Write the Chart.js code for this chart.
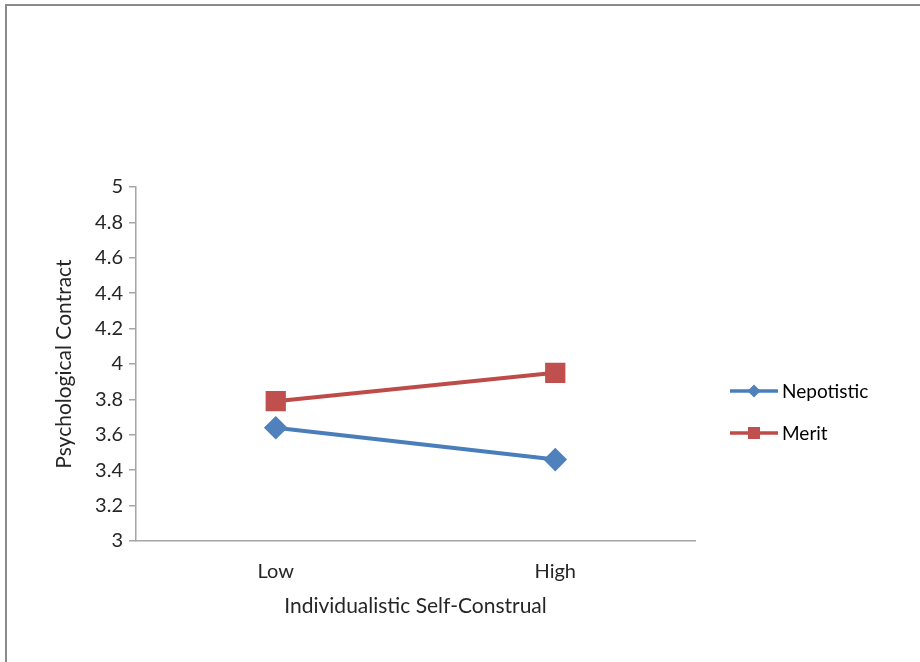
<!DOCTYPE html>
<html>
<head>
<meta charset="utf-8">
<script src="https://cdn.jsdelivr.net/npm/chart.js@4.4.1/dist/chart.umd.min.js"></script>
<style>
  html, body { margin: 0; padding: 0; background: #fff; }
  #wrap { width: 920px; height: 662px; position: relative; }
</style>
</head>
<body>
<div id="wrap"><canvas id="c" width="920" height="662"></canvas></div>
<script>
// Interaction plot: psychological contract by self-construal and hiring condition
const categories = ['Low', 'High'];
const nepotistic = [3.64, 3.46];
const merit = [3.79, 3.95];
const yTicks = [3, 3.2, 3.4, 3.6, 3.8, 4, 4.2, 4.4, 4.6, 4.8, 5];

const FONT = 'Lato, "Open Sans", sans-serif';
const TEXT = '#262626';
const AXIS = '#a6a6a6';

// Outer frame of the figure
const framePlugin = {
  id: 'frame',
  beforeDraw(chart) {
    const ctx = chart.ctx;
    ctx.save();
    ctx.fillStyle = '#fff';
    ctx.fillRect(0, 0, chart.width, chart.height);
    ctx.strokeStyle = '#8a8a8a';
    ctx.lineWidth = 2;
    ctx.beginPath();
    ctx.moveTo(6, chart.height);
    ctx.lineTo(6, 5);
    ctx.lineTo(chart.width, 5);
    ctx.stroke();
    ctx.restore();
  }
};

// Legend: short line with its marker, then the series name
const sideLegend = {
  id: 'sideLegend',
  afterDraw(chart) {
    const ctx = chart.ctx;
    const rows = [391, 433];
    chart.data.datasets.forEach((ds, i) => {
      const y = rows[i];
      ctx.save();
      ctx.strokeStyle = ds.borderColor;
      ctx.lineWidth = 3.5;
      ctx.beginPath();
      ctx.moveTo(730, y);
      ctx.lineTo(778, y);
      ctx.stroke();
      ctx.fillStyle = ds.pointBackgroundColor;
      ctx.beginPath();
      if (ds.pointStyle === 'rectRot') {
        ctx.moveTo(754, y - 6.5);
        ctx.lineTo(760.5, y);
        ctx.lineTo(754, y + 6.5);
        ctx.lineTo(747.5, y);
        ctx.closePath();
      } else {
        ctx.rect(748, y - 6, 12, 12);
      }
      ctx.fill();
      ctx.fillStyle = '#000';
      ctx.font = '19px ' + FONT;
      ctx.textBaseline = 'middle';
      ctx.textAlign = 'left';
      ctx.fillText(ds.label, 782, y + 1);
      ctx.restore();
    });
  }
};

new Chart(document.getElementById('c'), {
  type: 'line',
  data: {
    labels: categories,
    datasets: [
      {
        label: 'Nepotistic',
        data: nepotistic,
        borderColor: '#4a7ebb',
        backgroundColor: '#4f81bd',
        pointBackgroundColor: '#4f81bd',
        pointBorderColor: '#4f81bd',
        pointStyle: 'rectRot',
        pointRadius: 9,
        borderWidth: 4,
        tension: 0
      },
      {
        label: 'Merit',
        data: merit,
        borderColor: '#be4b48',
        backgroundColor: '#c0504d',
        pointBackgroundColor: '#c0504d',
        pointBorderColor: '#c0504d',
        pointStyle: 'rect',
        pointRadius: 11.5,
        borderWidth: 4,
        tension: 0
      }
    ]
  },
  options: {
    responsive: false,
    animation: false,
    events: [],
    layout: { padding: { left: 48, top: 187, right: 225, bottom: 39 } },
    plugins: { legend: { display: false }, tooltip: { enabled: false } },
    scales: {
      x: {
        offset: true,
        grid: { display: false },
        border: { display: true, color: AXIS, width: 1.5 },
        ticks: { color: TEXT, font: { family: FONT, size: 20 }, padding: 11 },
        title: {
          display: true,
          text: 'Individualistic Self-Construal',
          color: TEXT,
          font: { family: FONT, size: 21 },
          padding: { top: 4, bottom: 4 }
        },
        afterFit(scale) { scale.height = 82; }
      },
      y: {
        min: 3,
        max: 5,
        afterBuildTicks(scale) { scale.ticks = yTicks.map(v => ({ value: v })); },
        grid: { drawOnChartArea: false, drawTicks: true, tickLength: 7, color: AXIS, lineWidth: 1.5 },
        border: { display: true, color: AXIS, width: 1.5 },
        ticks: {
          color: TEXT,
          font: { family: FONT, size: 20 },
          padding: 6,
          callback: v => String(Math.round(v * 10) / 10)
        },
        title: {
          display: true,
          text: 'Psychological Contract',
          color: TEXT,
          font: { family: FONT, size: 21 },
          padding: { top: 4, bottom: 4 }
        },
        afterFit(scale) { scale.width = 88; }
      }
    }
  },
  plugins: [framePlugin, sideLegend]
});
</script>
</body>
</html>
